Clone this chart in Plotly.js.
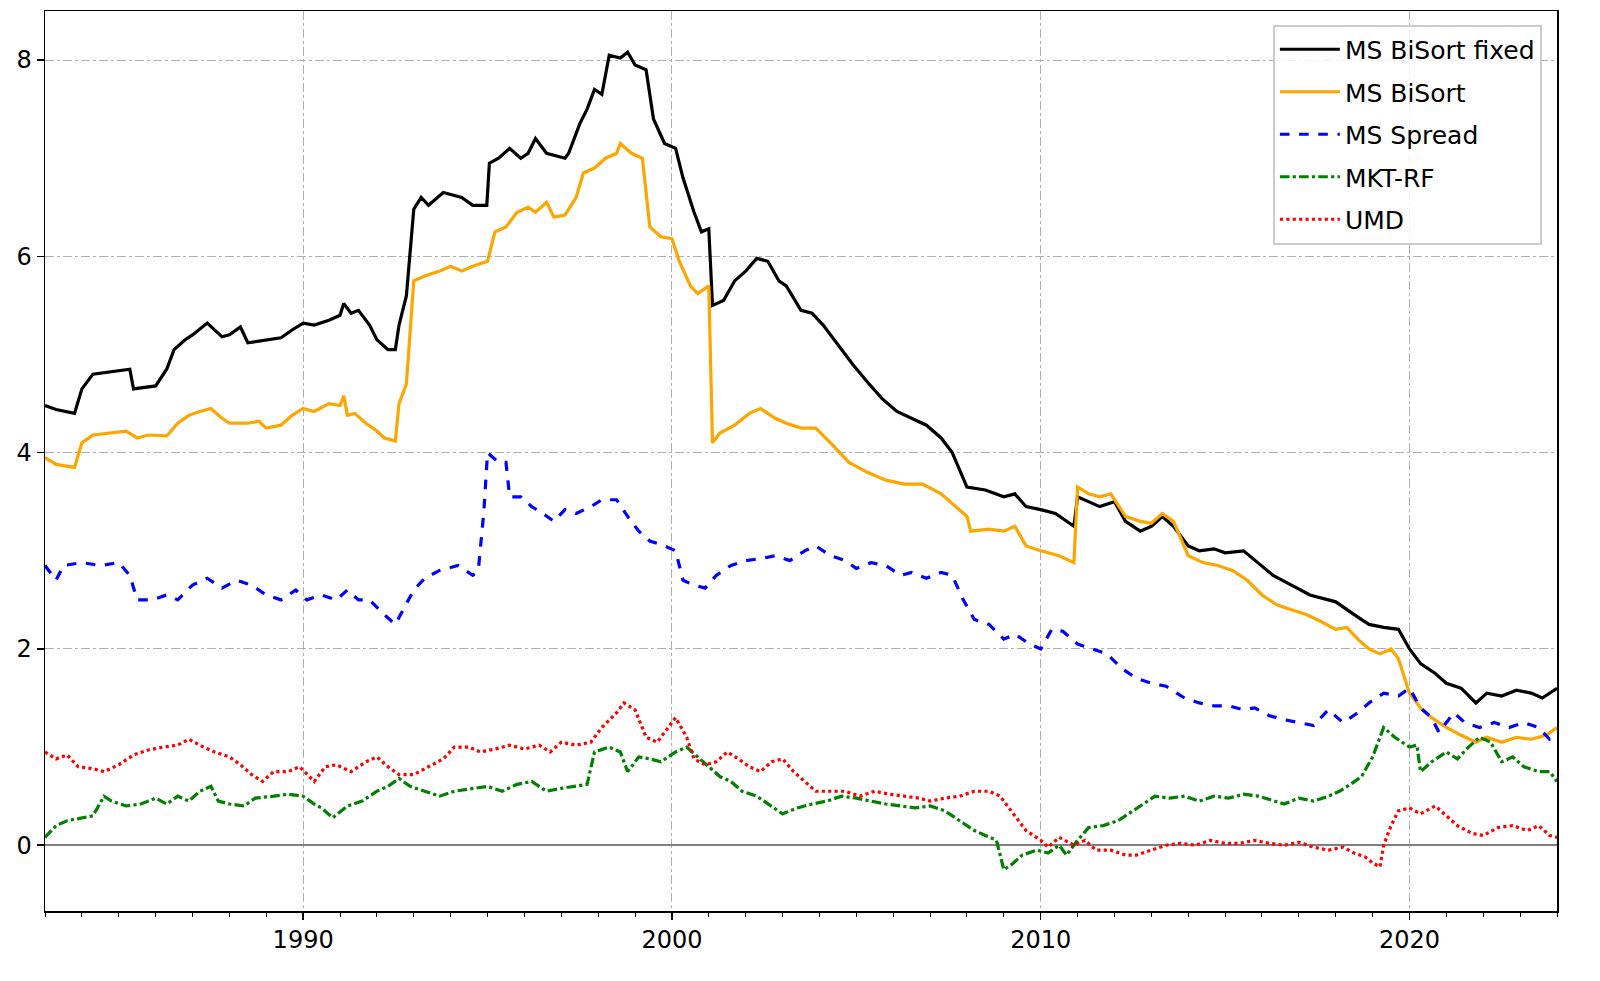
<!DOCTYPE html>
<html>
<head>
<meta charset="utf-8">
<script src="https://cdn.plot.ly/plotly-3.0.1.min.js"></script>
<style>
  body { margin: 0; background: #fff; }
  #chart { width: 1600px; height: 981px; }
</style>
</head>
<body>
<div id="chart"></div>
<script>
// values, x in decimal years
let bisortFixedX = [1983.0,1983.3,1983.8,1984.0,1984.3,1985.3,1985.4,1986.0,1986.3,1986.5,1986.8,1987.0,1987.4,1987.8,1988.0,1988.3,1988.5,1989.0,1989.4,1989.7,1990.0,1990.3,1990.7,1991.0,1991.1,1991.3,1991.5,1991.8,1992.0,1992.3,1992.5,1992.6,1992.8,1993.0,1993.2,1993.4,1993.8,1994.3,1994.6,1994.98,1995.05,1995.3,1995.6,1995.9,1996.1,1996.3,1996.6,1997.1,1997.2,1997.5,1997.7,1997.9,1998.1,1998.3,1998.6,1998.8,1999.0,1999.3,1999.5,1999.8,2000.1,2000.3,2000.6,2000.8,2001.0,2001.1,2001.4,2001.7,2002.0,2002.3,2002.6,2002.9,2003.1,2003.5,2003.8,2004.1,2004.5,2004.9,2005.3,2005.7,2006.1,2006.5,2006.9,2007.3,2007.6,2008.0,2008.5,2009.0,2009.3,2009.6,2010.0,2010.4,2010.9,2011.0,2011.3,2011.6,2012.0,2012.3,2012.7,2013.0,2013.3,2013.6,2014.0,2014.3,2014.7,2015.0,2015.5,2016.0,2016.3,2016.8,2017.3,2017.8,2018.0,2018.5,2018.9,2019.3,2019.7,2020.0,2020.3,2020.7,2021.0,2021.4,2021.8,2022.1,2022.5,2022.9,2023.3,2023.6,2024.0];
let bisortFixedY = [4.48,4.44,4.40,4.65,4.80,4.85,4.65,4.68,4.85,5.05,5.15,5.20,5.32,5.18,5.20,5.28,5.12,5.15,5.17,5.25,5.32,5.30,5.35,5.40,5.52,5.42,5.45,5.30,5.15,5.05,5.05,5.30,5.60,6.48,6.60,6.52,6.65,6.60,6.52,6.52,6.95,7.00,7.10,7.00,7.05,7.20,7.05,7.00,7.05,7.35,7.50,7.70,7.65,8.05,8.02,8.08,7.95,7.90,7.40,7.15,7.10,6.80,6.45,6.25,6.28,5.50,5.55,5.75,5.85,5.98,5.95,5.75,5.70,5.45,5.42,5.30,5.10,4.90,4.72,4.55,4.42,4.35,4.28,4.15,4.00,3.65,3.62,3.55,3.58,3.45,3.42,3.38,3.25,3.55,3.50,3.45,3.50,3.30,3.20,3.25,3.35,3.25,3.05,3.00,3.02,2.98,3.00,2.85,2.75,2.65,2.55,2.50,2.48,2.35,2.25,2.22,2.20,2.00,1.85,1.75,1.65,1.60,1.45,1.55,1.52,1.58,1.55,1.50,1.60];

let bisortX = [1983.0,1983.3,1983.8,1984.0,1984.3,1984.7,1985.2,1985.5,1985.8,1986.3,1986.6,1986.9,1987.2,1987.5,1987.8,1988.0,1988.5,1988.8,1989.0,1989.4,1989.7,1990.0,1990.3,1990.7,1991.0,1991.1,1991.2,1991.4,1991.7,1992.0,1992.2,1992.5,1992.6,1992.8,1993.0,1993.3,1993.7,1994.0,1994.3,1994.6,1995.0,1995.2,1995.5,1995.8,1996.1,1996.3,1996.6,1996.8,1997.1,1997.4,1997.6,1997.9,1998.2,1998.5,1998.6,1998.9,1999.2,1999.4,1999.7,2000.0,2000.2,2000.5,2000.7,2001.0,2001.1,2001.3,2001.7,2002.1,2002.4,2002.8,2003.1,2003.5,2003.9,2004.3,2004.8,2005.3,2005.8,2006.3,2006.8,2007.3,2007.7,2008.0,2008.1,2008.6,2009.0,2009.3,2009.6,2010.0,2010.5,2010.9,2011.0,2011.3,2011.6,2011.9,2012.3,2012.7,2013.0,2013.3,2013.6,2014.0,2014.4,2014.8,2015.2,2015.6,2016.0,2016.4,2016.8,2017.2,2017.6,2018.0,2018.3,2018.6,2018.9,2019.2,2019.5,2019.7,2020.0,2020.3,2020.6,2021.0,2021.4,2021.8,2022.1,2022.5,2022.9,2023.3,2023.7,2024.0];
let bisortY = [3.95,3.88,3.85,4.10,4.18,4.20,4.22,4.15,4.18,4.17,4.30,4.38,4.42,4.45,4.35,4.30,4.30,4.32,4.25,4.28,4.38,4.45,4.42,4.50,4.48,4.58,4.38,4.40,4.30,4.22,4.15,4.12,4.50,4.70,5.75,5.80,5.85,5.90,5.85,5.90,5.95,6.25,6.30,6.45,6.50,6.45,6.55,6.40,6.42,6.60,6.85,6.90,7.00,7.05,7.15,7.05,7.00,6.30,6.20,6.18,5.95,5.70,5.62,5.70,4.10,4.20,4.28,4.40,4.45,4.35,4.30,4.25,4.25,4.10,3.90,3.80,3.72,3.68,3.68,3.58,3.45,3.35,3.20,3.22,3.20,3.25,3.05,3.00,2.95,2.88,3.65,3.58,3.55,3.58,3.35,3.30,3.28,3.38,3.30,2.95,2.88,2.85,2.80,2.70,2.55,2.45,2.40,2.35,2.28,2.20,2.22,2.10,2.00,1.95,2.00,1.90,1.55,1.40,1.30,1.20,1.12,1.05,1.10,1.05,1.10,1.08,1.12,1.20];

let spreadX = [1983.0,1983.3,1983.5,1984.0,1984.5,1985.0,1985.3,1985.5,1985.9,1986.3,1986.6,1987.0,1987.4,1987.8,1988.2,1988.6,1989.0,1989.4,1989.8,1990.1,1990.5,1990.9,1991.2,1991.5,1991.8,1992.2,1992.5,1992.8,1993.0,1993.3,1993.7,1994.2,1994.6,1994.75,1994.9,1995.0,1995.3,1995.5,1995.6,1995.9,1996.2,1996.5,1996.8,1997.1,1997.4,1997.8,1998.1,1998.5,1998.8,1999.1,1999.4,1999.8,2000.1,2000.3,2000.6,2000.9,2001.2,2001.6,2002.0,2002.4,2002.8,2003.2,2003.6,2003.9,2004.3,2004.7,2005.0,2005.4,2005.8,2006.2,2006.5,2006.9,2007.3,2007.6,2007.9,2008.2,2008.6,2009.0,2009.3,2009.7,2010.0,2010.3,2010.6,2011.0,2011.4,2011.8,2012.2,2012.6,2013.0,2013.4,2013.9,2014.3,2014.7,2015.1,2015.5,2015.8,2016.2,2016.6,2017.0,2017.4,2017.8,2018.2,2018.6,2018.9,2019.3,2019.7,2020.0,2020.3,2020.6,2020.8,2021.2,2021.5,2021.9,2022.3,2022.7,2023.1,2023.5,2023.8,2024.0];
let spreadY = [2.85,2.70,2.85,2.88,2.85,2.88,2.75,2.50,2.50,2.55,2.50,2.65,2.72,2.62,2.70,2.65,2.55,2.50,2.60,2.50,2.55,2.50,2.60,2.50,2.50,2.35,2.25,2.45,2.60,2.72,2.80,2.85,2.75,2.80,3.40,4.00,3.90,3.90,3.55,3.55,3.45,3.38,3.30,3.42,3.38,3.45,3.52,3.52,3.35,3.20,3.10,3.05,3.00,2.70,2.65,2.62,2.75,2.85,2.90,2.92,2.95,2.90,3.00,3.05,2.95,2.90,2.82,2.88,2.85,2.75,2.78,2.72,2.78,2.75,2.50,2.30,2.25,2.10,2.15,2.05,2.00,2.20,2.18,2.05,2.00,1.95,1.80,1.70,1.65,1.62,1.50,1.45,1.42,1.42,1.38,1.40,1.32,1.28,1.25,1.22,1.38,1.25,1.35,1.45,1.55,1.52,1.60,1.40,1.30,1.15,1.35,1.25,1.20,1.25,1.20,1.25,1.20,1.08,1.10];

let mktX = [1983.0,1983.3,1983.6,1984.0,1984.3,1984.6,1984.8,1985.2,1985.6,1986.0,1986.3,1986.6,1986.9,1987.2,1987.5,1987.7,1988.0,1988.4,1988.7,1989.2,1989.6,1990.0,1990.3,1990.5,1990.8,1991.2,1991.6,1992.0,1992.3,1992.6,1992.9,1993.3,1993.7,1994.1,1994.6,1995.0,1995.4,1995.8,1996.2,1996.6,1997.0,1997.4,1997.7,1997.9,1998.3,1998.6,1998.8,1999.1,1999.4,1999.7,2000.1,2000.4,2000.7,2001.0,2001.3,2001.6,2001.9,2002.3,2002.7,2003.0,2003.4,2003.8,2004.2,2004.6,2005.0,2005.4,2005.8,2006.2,2006.6,2007.0,2007.4,2007.8,2008.2,2008.5,2008.8,2009.0,2009.2,2009.5,2009.9,2010.2,2010.5,2010.7,2011.0,2011.3,2011.7,2012.1,2012.5,2012.8,2013.1,2013.5,2013.9,2014.3,2014.7,2015.1,2015.5,2015.9,2016.3,2016.6,2017.0,2017.4,2017.8,2018.1,2018.4,2018.7,2019.0,2019.3,2019.6,2020.0,2020.2,2020.3,2020.6,2021.0,2021.3,2021.6,2021.9,2022.2,2022.5,2022.8,2023.1,2023.5,2023.8,2024.0];
let mktY = [0.08,0.20,0.25,0.28,0.30,0.50,0.45,0.40,0.42,0.48,0.42,0.50,0.45,0.55,0.60,0.45,0.42,0.40,0.48,0.50,0.52,0.50,0.42,0.38,0.28,0.40,0.45,0.55,0.60,0.68,0.60,0.55,0.50,0.55,0.58,0.60,0.55,0.62,0.65,0.55,0.58,0.60,0.62,0.95,1.00,0.95,0.75,0.90,0.88,0.85,0.95,1.00,0.90,0.80,0.70,0.65,0.55,0.50,0.40,0.32,0.38,0.42,0.45,0.50,0.48,0.45,0.42,0.40,0.38,0.40,0.35,0.25,0.15,0.10,0.05,-0.25,-0.20,-0.10,-0.05,-0.08,0.00,-0.10,0.05,0.18,0.20,0.25,0.35,0.42,0.50,0.48,0.50,0.45,0.50,0.48,0.52,0.50,0.45,0.42,0.48,0.45,0.50,0.55,0.62,0.70,0.90,1.20,1.10,1.00,1.02,0.75,0.85,0.95,0.88,1.00,1.10,1.05,0.85,0.90,0.80,0.75,0.75,0.65];

let umdX = [1983.0,1983.3,1983.6,1983.9,1984.3,1984.6,1985.0,1985.4,1985.8,1986.2,1986.6,1986.9,1987.3,1987.6,1988.0,1988.3,1988.6,1988.9,1989.2,1989.6,1989.9,1990.1,1990.3,1990.6,1990.9,1991.3,1991.7,1992.0,1992.3,1992.6,1993.0,1993.4,1993.8,1994.1,1994.5,1994.8,1995.2,1995.6,1996.0,1996.4,1996.7,1997.0,1997.4,1997.8,1998.1,1998.5,1998.7,1999.0,1999.3,1999.6,1999.9,2000.1,2000.4,2000.6,2000.9,2001.2,2001.5,2001.8,2002.1,2002.4,2002.7,2003.0,2003.3,2003.6,2003.9,2004.3,2004.7,2005.1,2005.5,2005.9,2006.3,2006.7,2007.0,2007.4,2007.8,2008.2,2008.6,2008.9,2009.3,2009.6,2010.0,2010.2,2010.5,2010.9,2011.2,2011.5,2011.9,2012.3,2012.6,2013.0,2013.4,2013.8,2014.2,2014.6,2015.0,2015.4,2015.8,2016.2,2016.6,2017.0,2017.4,2017.8,2018.2,2018.5,2018.8,2019.0,2019.2,2019.3,2019.5,2019.7,2020.0,2020.3,2020.7,2021.0,2021.3,2021.7,2022.0,2022.4,2022.8,2023.2,2023.5,2023.8,2024.0];
let umdY = [0.95,0.88,0.92,0.80,0.78,0.75,0.82,0.92,0.97,1.00,1.02,1.08,1.00,0.95,0.90,0.82,0.72,0.65,0.75,0.75,0.80,0.72,0.65,0.80,0.82,0.75,0.85,0.90,0.80,0.72,0.72,0.80,0.88,1.00,1.00,0.95,0.98,1.02,0.98,1.02,0.95,1.05,1.02,1.05,1.20,1.35,1.45,1.38,1.10,1.05,1.20,1.30,1.10,0.88,0.82,0.85,0.95,0.88,0.80,0.75,0.85,0.88,0.75,0.65,0.55,0.55,0.55,0.50,0.55,0.52,0.50,0.48,0.45,0.48,0.50,0.55,0.55,0.50,0.30,0.15,0.05,-0.02,0.08,0.00,0.05,-0.05,-0.05,-0.10,-0.10,-0.05,0.00,0.02,0.00,0.05,0.02,0.02,0.05,0.02,0.00,0.03,-0.02,-0.05,-0.02,-0.08,-0.12,-0.18,-0.22,0.00,0.20,0.35,0.38,0.32,0.40,0.30,0.20,0.12,0.10,0.18,0.20,0.15,0.20,0.10,0.08];

let yearTicks = [1990, 2000, 2010, 2020];

let traceFixed = {x: bisortFixedX, y: bisortFixedY, type: 'scatter', mode: 'lines', name: 'MS BiSort fixed', legendgroup: 'a', line: {color: '#000000', width: 3.2}};
let traceBisort = {x: bisortX, y: bisortY, type: 'scatter', mode: 'lines', name: 'MS BiSort', legendgroup: 'b', line: {color: '#FFA500', width: 3.2}};
let traceSpread = {x: spreadX, y: spreadY, type: 'scatter', mode: 'lines', name: 'MS Spread', legendgroup: 'c', line: {color: '#0000FF', width: 3.2, dash: 'dash'}};
let traceMkt = {x: mktX, y: mktY, type: 'scatter', mode: 'lines', name: 'MKT-RF', legendgroup: 'd', line: {color: '#008000', width: 3.2, dash: 'dashdot'}};
let traceUmd = {x: umdX, y: umdY, type: 'scatter', mode: 'lines', name: 'UMD', legendgroup: 'e', line: {color: '#FF0000', width: 3.2, dash: 'dot'}};

let layout = {
    width: 1600, height: 981,
    margin: {l: 45, r: 43, t: 11, b: 70},
    paper_bgcolor: '#ffffff', plot_bgcolor: '#ffffff',
    font: {family: 'DejaVu Sans', size: 24, color: '#000000'},
    showlegend: true,
    legend: {
        x: 0.99, y: 0.985, xanchor: 'right', yanchor: 'top',
        bgcolor: 'rgba(255,255,255,0.85)', bordercolor: '#cccccc', borderwidth: 2,
        font: {family: 'DejaVu Sans', size: 25, color: '#000000'},
        tracegroupgap: 7, itemwidth: 60
    },
    xaxis: {
        range: [1983, 2024], tickvals: yearTicks, ticktext: yearTicks.map(String),
        ticks: 'outside', ticklen: 7, tickwidth: 1.5, tickcolor: '#000',
        showline: true, mirror: true, linecolor: '#000', linewidth: 1.5,
        showgrid: true, gridcolor: '#b0b0b0', griddash: 'dashdot', gridwidth: 1,
        zeroline: false,
        minor: {dtick: 1, tick0: 1983, ticks: 'outside', ticklen: 4, tickwidth: 1, tickcolor: '#000', showgrid: false}
    },
    yaxis: {
        range: [-0.67, 8.5], tickvals: [0, 2, 4, 6, 8],
        ticks: 'outside', ticklen: 7, tickwidth: 1.5, tickcolor: '#000',
        showline: true, mirror: true, linecolor: '#000', linewidth: 1.5,
        showgrid: true, gridcolor: '#b0b0b0', griddash: 'dashdot', gridwidth: 1,
        zeroline: true, zerolinecolor: '#808080', zerolinewidth: 2
    }
};

let drawGraph = document.getElementById('chart');
Plotly.newPlot(drawGraph, [traceFixed, traceBisort, traceSpread, traceMkt, traceUmd], layout, {staticPlot: true});
</script>
</body>
</html>
